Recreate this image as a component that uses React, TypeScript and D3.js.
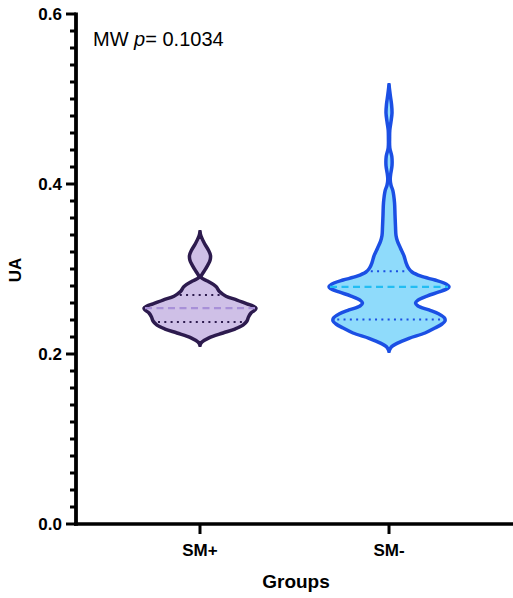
import React from "react";
import * as d3 from "d3";

const categories = ["SM+", "SM-"];
const yTicks = [0.0, 0.2, 0.4, 0.6];

// Violin outlines: UA value and relative density (half-width units)
const smPlusValues = [0.3435, 0.3388, 0.33, 0.322, 0.316, 0.31, 0.304, 0.298, 0.2925, 0.291, 0.2895, 0.2855, 0.2795, 0.2735, 0.268, 0.2635, 0.259, 0.2565, 0.254, 0.2518, 0.2482, 0.2435, 0.2388, 0.234, 0.2294, 0.2247, 0.219, 0.214, 0.2106];
const smPlusDensity = [0, 1, 4.5, 8.5, 10.5, 10, 7.5, 4.5, 1.5, 1, 1.5, 8, 16, 19.5, 26, 37, 47, 53, 56, 55, 51, 48.5, 47, 43, 35, 23, 9, 2, 0];

const smMinusValues = [0.5165, 0.505, 0.494, 0.4835, 0.4735, 0.4635, 0.4545, 0.4425, 0.4325, 0.4215, 0.4125, 0.4055, 0.3985, 0.3925, 0.378, 0.3635, 0.3495, 0.3395, 0.3325, 0.3245, 0.3155, 0.3075, 0.301, 0.2965, 0.2915, 0.287, 0.2835, 0.2806, 0.279, 0.277, 0.273, 0.2682, 0.2635, 0.26, 0.2565, 0.2518, 0.247, 0.2424, 0.2388, 0.2353, 0.2306, 0.2247, 0.2185, 0.2125, 0.2085, 0.2035];
const smMinusDensity = [0, 1.2, 2.5, 3, 2, 0.8, 0.6, 0.8, 2.8, 3, 1.8, 1.2, 2, 3.8, 5.5, 6, 6.5, 7, 8.5, 11.5, 15, 17, 19.5, 23, 32, 46, 55, 59, 60, 58.5, 50, 38, 29, 26.5, 29, 40, 50, 55.5, 56, 53, 46, 36, 20, 8, 2.5, 0];

const smPlusMedian = 0.254;
const smPlusQuartiles = [0.2376, 0.2695];
const smMinusMedian = 0.279;
const smMinusQuartiles = [0.2405, 0.2975];

const groups = [
  { name: "SM+", values: smPlusValues, density: smPlusDensity, median: smPlusMedian, quartiles: smPlusQuartiles, fill: "#cfc0e7", stroke: "#2d1b4e", medianColor: "#a890d8", quartColor: "#2d1b4e" },
  { name: "SM-", values: smMinusValues, density: smMinusDensity, median: smMinusMedian, quartiles: smMinusQuartiles, fill: "#8fdbfb", stroke: "#1b4fe4", medianColor: "#22bdf2", quartColor: "#1b4fe4" },
];

function halfWidthAt(values: number[], density: number[], v: number) {
  for (let i = 0; i < values.length - 1; i++) {
    const a = values[i], b = values[i + 1];
    if ((v <= a && v >= b) || (v >= a && v <= b)) {
      const t = (v - a) / (b - a);
      return density[i] + t * (density[i + 1] - density[i]);
    }
  }
  return 0;
}

export default function App() {
  const W = 513, H = 598;
  const y = d3.scaleLinear().domain([0, 0.6]).range([524, 14]);
  const x = d3.scalePoint<string>().domain(categories).range([76, 513]).padding(0.656);
  const wScale = d3.scaleLinear().domain([0, 60]).range([0, 60]);
  const font = "'Liberation Sans', Arial, Helvetica, sans-serif";

  const minorTicks = d3.range(0, 31).map((i) => i * 0.02);

  return (
    <svg width={W} height={H} style={{ position: "absolute", left: 0, top: 0 }}>
      <rect width={W} height={H} fill="#fff" />
      {groups.map((g) => {
        const cx = x(g.name) as number;
        const pts = g.values.map((v, i) => ({ v, d: g.density[i] }));
        const area = d3
          .area<{ v: number; d: number }>()
          .y((p) => y(p.v))
          .x0((p) => cx - wScale(p.d))
          .x1((p) => cx + wScale(p.d))
          .curve(d3.curveCatmullRom.alpha(0.5));
        const tipTop = Math.max(...g.values);
        const tipBot = Math.min(...g.values);
        const mw = wScale(halfWidthAt(g.values, g.density, g.median));
        return (
          <g key={g.name}>
            <path d={area(pts) || ""} fill={g.fill} stroke={g.stroke} strokeWidth={3.5} strokeLinejoin="round" />
            <line x1={cx} x2={cx} y1={y(tipTop) - 2} y2={y(tipTop) + 4} stroke={g.stroke} strokeWidth={3} />
            <line x1={cx} x2={cx} y1={y(tipBot) - 4} y2={y(tipBot) + 2} stroke={g.stroke} strokeWidth={3} />
            <line x1={cx - mw + 1} x2={cx + mw - 1} y1={y(g.median)} y2={y(g.median)} stroke={g.medianColor} strokeWidth={2.2} strokeDasharray="7,4.5" />
            {g.quartiles.map((q, i) => {
              const qw = wScale(halfWidthAt(g.values, g.density, q));
              return (
                <line key={i} x1={cx - qw + 4} x2={cx + qw - 3} y1={y(q)} y2={y(q)} stroke={g.quartColor} strokeWidth={2} strokeDasharray="2,4.3" />
              );
            })}
          </g>
        );
      })}

      {/* Y axis */}
      {minorTicks.map((t, i) => (
        <line key={i} x1={i % 10 === 0 ? 66 : 70} x2={76} y1={y(t)} y2={y(t)} stroke="#000" strokeWidth={3} />
      ))}
      <line x1={76} x2={76} y1={y(0.6) - 1.5} y2={y(0) + 1.75} stroke="#000" strokeWidth={3.8} />
      {yTicks.map((t) => (
        <text key={t} x={62} y={y(t)} dy="0.35em" textAnchor="end" fontFamily={font} fontWeight="bold" fontSize={17} fill="#000">
          {t.toFixed(1)}
        </text>
      ))}
      <text transform={`translate(21,270) rotate(-90)`} textAnchor="middle" fontFamily={font} fontWeight="bold" fontSize={17} fill="#000">
        UA
      </text>

      {/* X axis */}
      <line x1={74} x2={513} y1={y(0)} y2={y(0)} stroke="#000" strokeWidth={3.5} />
      {categories.map((c) => (
        <g key={c}>
          <line x1={x(c)} x2={x(c)} y1={y(0)} y2={y(0) + 10} stroke="#000" strokeWidth={3} />
          <text x={x(c)} y={556} textAnchor="middle" fontFamily={font} fontWeight="bold" fontSize={17} fill="#000">
            {c}
          </text>
        </g>
      ))}
      <text x={296} y={588} textAnchor="middle" fontFamily={font} fontWeight="bold" fontSize={19} fill="#000">
        Groups
      </text>

      <text x={93} y={46} fontFamily={font} fontSize={20} fill="#000">
        MW <tspan fontStyle="italic">p</tspan>= 0.1034
      </text>
    </svg>
  );
}
